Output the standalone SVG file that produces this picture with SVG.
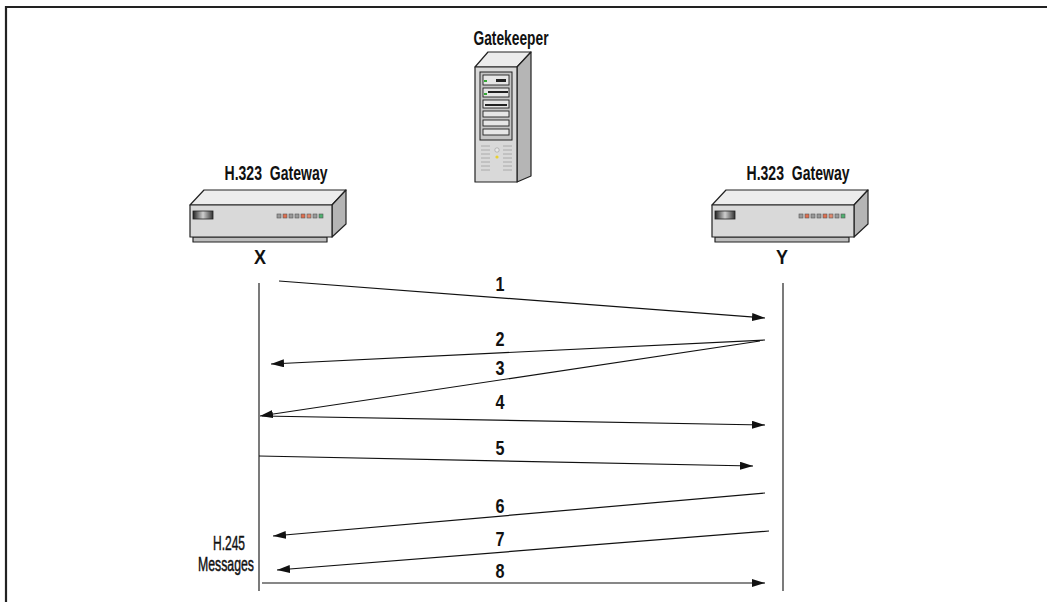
<svg xmlns="http://www.w3.org/2000/svg" width="1047" height="602" viewBox="0 0 1047 602">
  <defs>
    <style>
      .lbl { font-family: "Liberation Sans", Arial, sans-serif; fill: #111; text-anchor: middle; white-space: pre; }
      .name { font-size: 21px; font-weight: bold; }
      .note { font-size: 21px; stroke: #111; stroke-width: 0.5; }
      .num { font-size: 20px; font-weight: bold; }
      .msg { stroke: #111; stroke-width: 1.2; fill: none; marker-end: url(#head); }
      .life { stroke: #333; stroke-width: 1.3; }
      .edge { stroke: #222; stroke-width: 1.2; stroke-linejoin: round; }
      .top { fill: #ececec; }
      .side { fill: #b5b5b5; }
      .front { fill: #d9d9d9; }
      .base { fill: #bdbdbd; }
      .led { stroke: #555; stroke-width: 0.6; }
    </style>
    <marker id="head" markerUnits="userSpaceOnUse" markerWidth="14" markerHeight="10" refX="13" refY="4" orient="auto">
      <path d="M0,0 L13,4 L0,8 Z" fill="#111"/>
    </marker>
    <linearGradient id="btn" x1="0" y1="0" x2="1" y2="0">
      <stop offset="0" stop-color="#222"/>
      <stop offset="0.5" stop-color="#cfcfcf"/>
      <stop offset="1" stop-color="#333"/>
    </linearGradient>
    <g id="gateway">
      <polygon class="top edge" points="0,15 14,0 156,0 142,15"/>
      <polygon class="side edge" points="142,15 156,0 156,34 142,47"/>
      <rect class="base edge" x="3" y="47" width="134" height="5"/>
      <rect class="front edge" x="0" y="15" width="142" height="32"/>
      <rect x="3" y="21" width="20" height="8" fill="url(#btn)" stroke="#222" stroke-width="0.8"/>
      <rect class="led" x="87" y="24" width="4" height="4" fill="#9a9a9a"/>
      <rect class="led" x="93" y="24" width="4" height="4" fill="#e07050"/>
      <rect class="led" x="99" y="24" width="4" height="4" fill="#9a9a9a"/>
      <rect class="led" x="105" y="24" width="4" height="4" fill="#9a9a9a"/>
      <rect class="led" x="111" y="24" width="4" height="4" fill="#e07050"/>
      <rect class="led" x="117" y="24" width="4" height="4" fill="#e08a70"/>
      <rect class="led" x="123" y="24" width="4" height="4" fill="#9a9a9a"/>
      <rect class="led" x="129" y="24" width="4" height="4" fill="#50b070"/>
    </g>
  </defs>

  <rect width="1047" height="602" fill="#fff"/>
  <!-- outer frame, open at right and bottom -->
  <path d="M6,602 V7 H1047" fill="none" stroke="#222" stroke-width="2.2"/>

  <!-- gatekeeper server -->
  <g id="gatekeeper">
    <text class="lbl name" x="511" y="45" textLength="75" lengthAdjust="spacingAndGlyphs">Gatekeeper</text>
    <polygon class="top edge" points="475,67 488,52 531,52 517,67"/>
    <polygon class="side edge" points="517,67 531,52 531,176 517,182"/>
    <rect class="front edge" x="475" y="67" width="42" height="115" fill="#dcdcdc"/>
    <rect x="480" y="72" width="32" height="68" fill="#c4c4c4" stroke="#222" stroke-width="1"/>
    <rect x="483" y="75" width="26" height="10" fill="#e6e6e6" stroke="#222" stroke-width="0.9"/>
    <rect x="484" y="80" width="3" height="2" fill="#3a3"/>
    <rect x="496" y="79" width="10" height="3" fill="#222"/>
    <rect x="483" y="88" width="26" height="9" fill="#e6e6e6" stroke="#222" stroke-width="0.9"/>
    <rect x="484" y="93" width="3" height="2" fill="#3a3"/>
    <rect x="488" y="91" width="20" height="2" fill="#222"/>
    <rect x="483" y="100" width="26" height="8" fill="#e6e6e6" stroke="#222" stroke-width="0.9"/>
    <rect x="485" y="104" width="22" height="2" fill="#222"/>
    <rect x="483" y="111" width="26" height="6" fill="#e6e6e6" stroke="#222" stroke-width="0.9"/>
    <rect x="483" y="120" width="26" height="6" fill="#e6e6e6" stroke="#222" stroke-width="0.9"/>
    <rect x="483" y="129" width="26" height="6" fill="#e6e6e6" stroke="#222" stroke-width="0.9"/>
    <g stroke="#aaa" stroke-width="1">
      <path d="M481,146 h9 M481,150 h9 M481,154 h9 M481,158 h9 M481,162 h9 M481,166 h9 M481,170 h9"/>
      <path d="M503,146 h9 M503,150 h9 M503,154 h9 M503,158 h9 M503,162 h9 M503,166 h9 M503,170 h9"/>
    </g>
    <circle cx="497" cy="150" r="2.2" fill="#e8e8e8" stroke="#999" stroke-width="0.6"/>
    <circle cx="497" cy="157" r="1.6" fill="#e8d030"/>
  </g>

  <!-- gateway X -->
  <g id="gateway-x">
    <text class="lbl name" x="276" y="180" textLength="103" lengthAdjust="spacingAndGlyphs">H.323  Gateway</text>
    <use href="#gateway" x="190" y="190"/>
    <text class="lbl num" x="260" y="264" textLength="12" lengthAdjust="spacingAndGlyphs">X</text>
  </g>

  <!-- gateway Y -->
  <g id="gateway-y">
    <text class="lbl name" x="798" y="180" textLength="103" lengthAdjust="spacingAndGlyphs">H.323  Gateway</text>
    <use href="#gateway" x="712" y="190"/>
    <text class="lbl num" x="782" y="264" textLength="12" lengthAdjust="spacingAndGlyphs">Y</text>
  </g>

  <!-- H.245 annotation -->
  <g id="h245-note">
    <text class="lbl note" x="229" y="550" textLength="32" lengthAdjust="spacingAndGlyphs">H.245</text>
    <text class="lbl note" x="226" y="571" textLength="56" lengthAdjust="spacingAndGlyphs">Messages</text>
  </g>

  <!-- lifelines and messages -->
  <g id="connectors">
    <line class="life" x1="259" y1="283" x2="259" y2="591"/>
    <line class="life" x1="783" y1="283" x2="783" y2="591"/>

    <line class="msg" x1="279" y1="281" x2="765" y2="318"/>
    <line class="msg" x1="765" y1="340" x2="271" y2="364"/>
    <line class="msg" x1="760" y1="341" x2="260" y2="416"/>
    <line class="msg" x1="262" y1="416" x2="765" y2="425"/>
    <line class="msg" x1="259" y1="456" x2="753" y2="466"/>
    <line class="msg" x1="765" y1="493" x2="273" y2="536"/>
    <line class="msg" x1="769" y1="531" x2="277" y2="570"/>
    <line class="msg" x1="262" y1="583" x2="765" y2="583"/>

    <text class="lbl num" x="500" y="291" textLength="9" lengthAdjust="spacingAndGlyphs">1</text>
    <text class="lbl num" x="500" y="346" textLength="9" lengthAdjust="spacingAndGlyphs">2</text>
    <text class="lbl num" x="500" y="375" textLength="9" lengthAdjust="spacingAndGlyphs">3</text>
    <text class="lbl num" x="500" y="409" textLength="9" lengthAdjust="spacingAndGlyphs">4</text>
    <text class="lbl num" x="500" y="455" textLength="9" lengthAdjust="spacingAndGlyphs">5</text>
    <text class="lbl num" x="500" y="513" textLength="9" lengthAdjust="spacingAndGlyphs">6</text>
    <text class="lbl num" x="500" y="546" textLength="9" lengthAdjust="spacingAndGlyphs">7</text>
    <text class="lbl num" x="500" y="578" textLength="9" lengthAdjust="spacingAndGlyphs">8</text>
  </g>
</svg>
